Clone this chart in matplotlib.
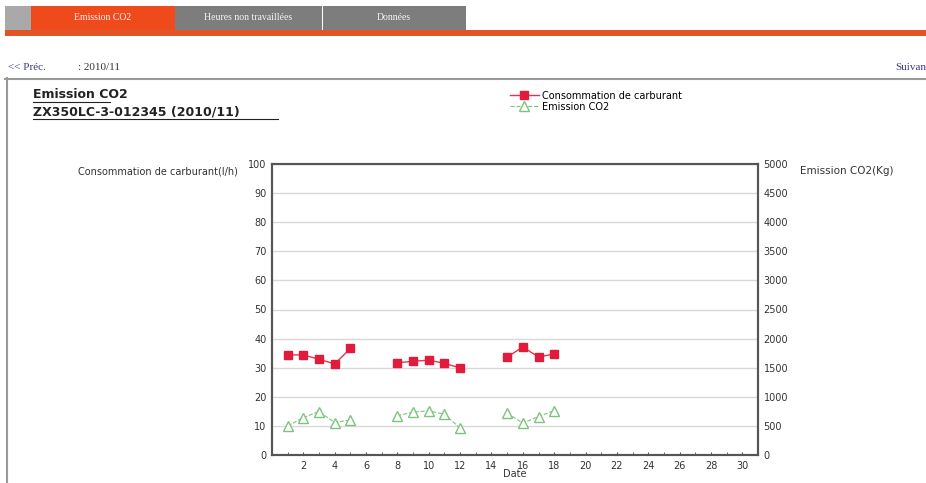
import numpy as np
import matplotlib.pyplot as plt
from matplotlib.patches import Rectangle
from matplotlib.lines import Line2D

# Data (NaN = no data that day)
days = list(range(1, 19))
fuel = [34.4, 34.4, 32.9, 31.3, 36.6, np.nan, np.nan,
        31.7, 32.2, 32.6, 31.5, 29.9, np.nan, np.nan,
        33.7, 37.1, 33.7, 34.7]
co2 = [500, 643, 747, 557, 603, np.nan, np.nan,
       678, 736, 759, 701, 460, np.nan, np.nan,
       719, 547, 660, 764]
tabs = ["Emission CO2", "Heures non travaillées", "Données"]

W, H = 926, 483
fig = plt.figure(figsize=(W / 100, H / 100), dpi=100)
fig.patch.set_facecolor("white")


def px(x, y):
    return x / W, 1 - y / H


def rect(x0, y0, x1, y1, **kw):
    fig.patches.append(Rectangle((x0 / W, 1 - y1 / H), (x1 - x0) / W, (y1 - y0) / H,
                                 transform=fig.transFigure, **kw))


def hline(x0, x1, y, **kw):
    fig.add_artist(Line2D([x0 / W, x1 / W], [1 - y / H, 1 - y / H],
                          transform=fig.transFigure, **kw))


# tab bar
rect(5, 6, 31, 30, facecolor="#a9a9a9", edgecolor="none")
rect(31, 6, 175, 30, facecolor="#ee4a1c", edgecolor="none")
rect(175, 6, 322, 30, facecolor="#7d7d7d", edgecolor="none")
rect(323, 6, 466, 30, facecolor="#7d7d7d", edgecolor="none")
rect(5, 30, 926, 36, facecolor="#e05426", edgecolor="none")
tab_x = [103, 248, 394]
for t, x in zip(tabs, tab_x):
    fig.text(*px(x, 18), t, ha="center", va="center", fontsize=7,
             family="Liberation Serif", color="#f4f4f4")

# navigation
fig.text(*px(8, 68), "<< Préc.", fontsize=8, family="Liberation Serif",
         color="#3a3a8c", va="center")
fig.text(*px(78, 68), ": 2010/11", fontsize=8, family="Liberation Serif",
         color="#333333", va="center")
fig.text(*px(926, 68), "Suivan", fontsize=8, family="Liberation Serif",
         color="#3a3a8c", va="center", ha="right")
hline(5, 926, 78.5, color="#9a9a9a", lw=1.5)
fig.add_artist(Line2D([6.5 / W, 6.5 / W], [0, 1 - 78 / H], transform=fig.transFigure,
                      color="#9a9a9a", lw=1.5))

# title block
fig.text(*px(33, 95), "Emission CO2", fontsize=9, fontweight="bold",
         color="#222222", va="center")
fig.text(*px(33, 112), "ZX350LC-3-012345 (2010/11)", fontsize=9, fontweight="bold",
         color="#222222", va="center")
hline(33, 110, 102, color="#222222", lw=0.8)
hline(33, 278, 119, color="#222222", lw=0.8)

# chart
ax = fig.add_axes([272 / W, 1 - 455 / H, (758 - 272) / W, (455 - 164) / H])
ax2 = ax.twinx()

ax.plot(days, fuel, color="#e8334a", lw=1, marker="s", markersize=6,
        markerfacecolor="#e01b3c", markeredgecolor="#e01b3c",
        label="Consommation de carburant")
ax2.plot(days, co2, color="#7cc47c", lw=0.8, ls="--", marker="^", markersize=7,
         markerfacecolor="white", markeredgecolor="#7cc47c",
         label="Emission CO2")

ax.set_xlim(0, 31)
ax.set_ylim(0, 100)
ax2.set_ylim(0, 5000)
ax.set_xticks(range(2, 31, 2))
ax.set_xticks(range(1, 31), minor=True)
ax.set_yticks(range(0, 101, 10))
ax2.set_yticks(range(0, 5001, 500))
ax.yaxis.grid(True, color="#d8d8d8", lw=1)
ax.set_axisbelow(True)

for a in (ax, ax2):
    for s in a.spines.values():
        s.set_color("#555555")
        s.set_linewidth(1.5)
    a.tick_params(labelsize=7, colors="#333333", length=0, pad=4)
ax.tick_params(axis="x", which="both", length=2, direction="in", color="#555555")

ax.set_xlabel("Date", fontsize=7, color="#333333", labelpad=-1)
fig.text(*px(238, 171), "Consommation de carburant(l/h)", fontsize=7,
         color="#333333", ha="right", va="center")
fig.text(*px(800, 171), "Emission CO2(Kg)", fontsize=7.5,
         color="#333333", ha="left", va="center")

# legend
handles = ax.get_lines() + ax2.get_lines()
fig.legend(handles, [h.get_label() for h in handles], loc="upper left",
           bbox_to_anchor=px(505, 86), frameon=False, fontsize=7,
           handlelength=3, handletextpad=0.3, labelspacing=0.1, borderpad=0)

fig.savefig("out.png", dpi=100)
